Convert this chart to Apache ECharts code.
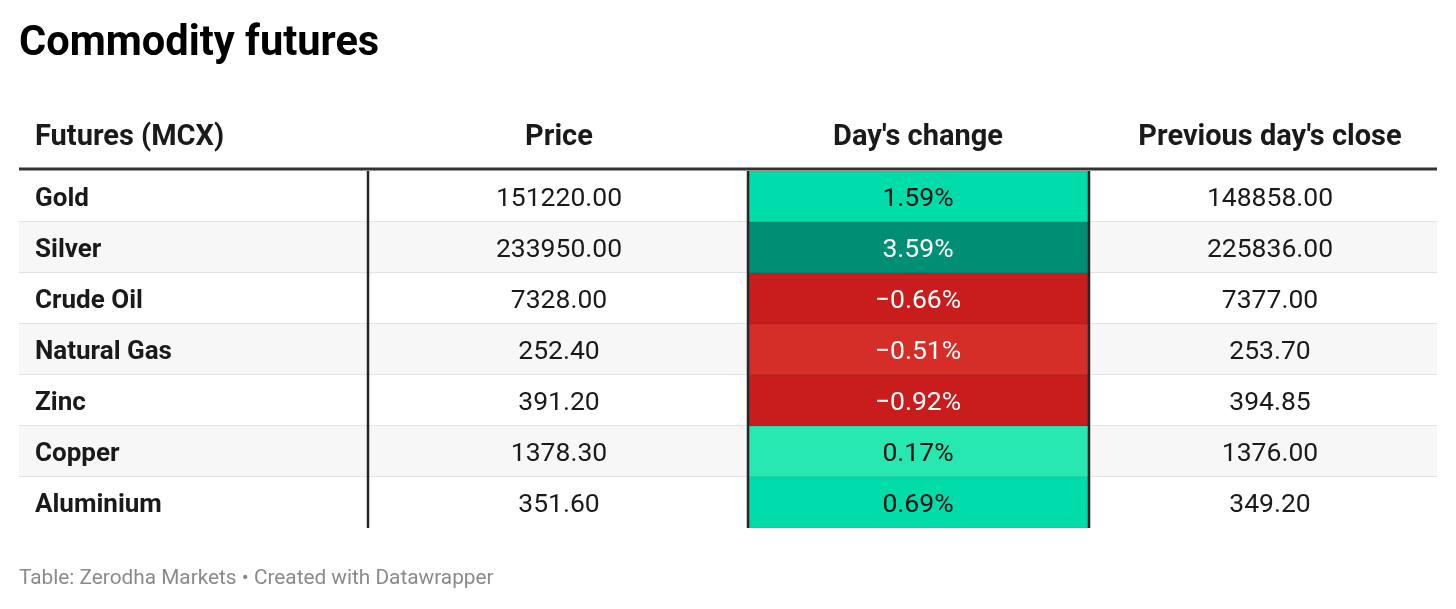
<!DOCTYPE html>
<html>
<head>
<meta charset="utf-8">
<script src="https://cdn.jsdelivr.net/npm/echarts@6/dist/echarts.min.js"></script>
<style>
html,body{margin:0;padding:0;background:#fff;}
#chart{width:1456px;height:609px;}
</style>
</head>
<body>
<div id="chart"></div>
<script>
// ---- data ----
const titleText = 'Commodity futures';
const footerText = 'Table: Zerodha Markets \u2022 Created with Datawrapper';
const columns = ['Futures (MCX)', 'Price', "Day's change", "Previous day's close"];
const commodities = ['Gold', 'Silver', 'Crude Oil', 'Natural Gas', 'Zinc', 'Copper', 'Aluminium'];
const prices = [151220.00, 233950.00, 7328.00, 252.40, 391.20, 1378.30, 351.60];
const changes = [1.59, 3.59, -0.66, -0.51, -0.92, 0.17, 0.69];
const prevClose = [148858.00, 225836.00, 7377.00, 253.70, 394.85, 1376.00, 349.20];

// ---- layout (table units = px inside grid) ----
const GRID_LEFT = 19, GRID_TOP = 171, ROW_H = 51;
const TABLE_W = 1418;
const colEdges = [0, 349, 729, 1070, TABLE_W];
const colCenters = [16, 540, 899, 1251];
const TXT_DY = 3;
const FONT = 'Roboto, "Noto Sans", sans-serif';

function heatColor(v) {
  if (v >= 3) return '#008f74';
  if (v >= 0.5) return '#00dcaa';
  if (v >= 0) return '#26e8b0';
  if (v >= -0.6) return '#d52d27';
  return '#c81c1d';
}
function heatText(v) {
  return (v >= 0 && v < 3) ? '#111111' : '#ffffff';
}
function fmtChange(v) {
  return (v < 0 ? '\u2212' : '') + Math.abs(v).toFixed(2) + '%';
}

const rows = commodities.map((c, i) => [i, prices[i], changes[i], prevClose[i]]);

const chart = echarts.init(document.getElementById('chart'), null, {renderer: 'canvas'});

const option = {
  animation: false,
  backgroundColor: '#ffffff',
  grid: {left: GRID_LEFT, top: GRID_TOP, width: TABLE_W, height: ROW_H * commodities.length},
  xAxis: {type: 'value', min: 0, max: TABLE_W, show: false},
  yAxis: {type: 'category', data: commodities, inverse: true, show: false},
  graphic: [
    {type: 'text', x: 19, y: 45, style: {text: titleText, font: 'bold 41.6px ' + FONT, fill: '#000000', verticalAlign: 'middle', align: 'left'}},
    {type: 'text', x: GRID_LEFT + colCenters[0], y: 138, style: {text: columns[0], font: 'bold 29px ' + FONT, fill: '#1a1a1a', verticalAlign: 'middle', align: 'left'}},
    {type: 'text', x: GRID_LEFT + colCenters[1], y: 138, style: {text: columns[1], font: 'bold 29px ' + FONT, fill: '#1a1a1a', verticalAlign: 'middle', align: 'center'}},
    {type: 'text', x: GRID_LEFT + colCenters[2], y: 138, style: {text: columns[2], font: 'bold 29px ' + FONT, fill: '#1a1a1a', verticalAlign: 'middle', align: 'center'}},
    {type: 'text', x: GRID_LEFT + colCenters[3], y: 138, style: {text: columns[3], font: 'bold 29px ' + FONT, fill: '#1a1a1a', verticalAlign: 'middle', align: 'center'}},
    {type: 'line', shape: {x1: GRID_LEFT, y1: 169, x2: GRID_LEFT + TABLE_W, y2: 169}, style: {stroke: '#333333', lineWidth: 3}, z: 10},
    {type: 'text', x: 19, y: 579, style: {text: footerText, font: '20.8px ' + FONT, fill: '#8a8a8a', verticalAlign: 'middle', align: 'left'}}
  ],
  series: [{
    type: 'custom',
    coordinateSystem: 'cartesian2d',
    data: rows,
    encode: {y: 0},
    renderItem: function (params, api) {
      const i = api.value(0);
      const center = api.coord([0, i]);
      const h = api.size([0, 1])[1];
      const cy = center[1];
      const y0 = cy - h / 2;
      const X = v => api.coord([v, i])[0];
      const price = api.value(1), chg = api.value(2), prev = api.value(3);
      const last = i === commodities.length - 1;
      const children = [];
      children.push({type: 'rect', shape: {x: X(0), y: y0, width: X(TABLE_W) - X(0), height: h},
        style: {fill: i % 2 === 1 ? '#f7f7f7' : '#ffffff'}});
      if (!last) {
        children.push({type: 'line', shape: {x1: X(0), y1: y0 + h - 0.5, x2: X(TABLE_W), y2: y0 + h - 0.5},
          style: {stroke: '#e2e2e2', lineWidth: 1}});
      }
      children.push({type: 'rect', shape: {x: X(colEdges[2]) + 1, y: y0, width: X(colEdges[3]) - X(colEdges[2]) - 2, height: h},
        style: {fill: heatColor(chg), stroke: 'rgba(0,0,0,0.07)', lineWidth: 1}});
      for (let k = 1; k <= 3; k++) {
        children.push({type: 'line', shape: {x1: X(colEdges[k]), y1: y0, x2: X(colEdges[k]), y2: y0 + h},
          style: {stroke: '#262626', lineWidth: 2.5}});
      }
      const ty = cy + TXT_DY;
      children.push({type: 'text', x: X(colCenters[0]), y: ty,
        style: {text: commodities[i], font: 'bold 26px ' + FONT, fill: '#1a1a1a', align: 'left', verticalAlign: 'middle'}});
      children.push({type: 'text', x: X(colCenters[1]), y: ty,
        style: {text: price.toFixed(2), font: '26.5px ' + FONT, fill: '#1a1a1a', align: 'center', verticalAlign: 'middle'}});
      children.push({type: 'text', x: X(colCenters[2]), y: ty,
        style: {text: fmtChange(chg), font: '26.5px ' + FONT, fill: heatText(chg), align: 'center', verticalAlign: 'middle'}});
      children.push({type: 'text', x: X(colCenters[3]), y: ty,
        style: {text: prev.toFixed(2), font: '26.5px ' + FONT, fill: '#1a1a1a', align: 'center', verticalAlign: 'middle'}});
      return {type: 'group', children: children};
    }
  }]
};
chart.setOption(option);
</script>
</body>
</html>
